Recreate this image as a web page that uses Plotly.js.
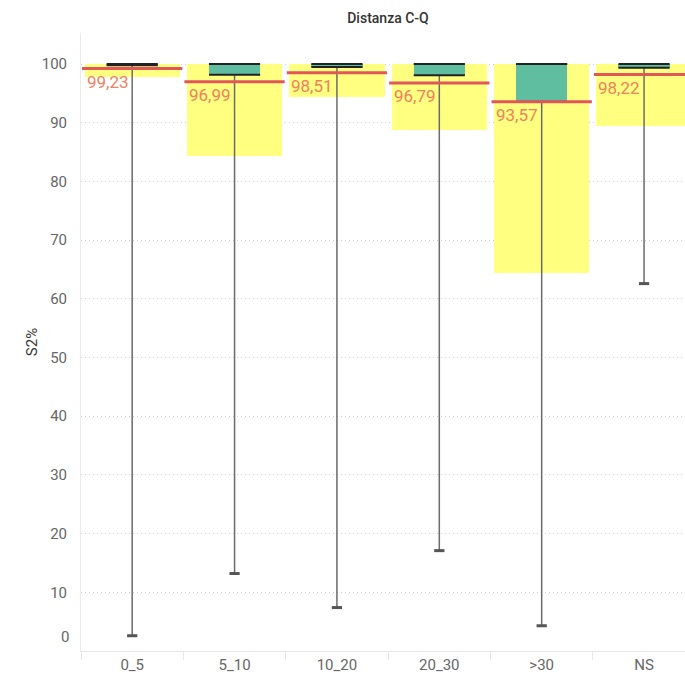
<!DOCTYPE html>
<html>
<head>
<meta charset="utf-8">
<script src="https://cdn.plot.ly/plotly-3.0.1.min.js"></script>
<style>html,body{margin:0;padding:0;background:#fff;}#chart{width:685px;height:677px;}</style>
</head>
<body>
<div id="chart"></div>
<script>
// ---- data ----
const categories = ['0_5', '5_10', '10_20', '20_30', '>30', 'NS'];
const bandLow    = [97.8, 84.3, 94.4, 88.8, 64.4, 89.4];
const bandHigh   = [100, 100, 100, 100, 100, 100];
const q1         = [99.8, 98.2, 99.5, 98.1, 93.6, 99.4];
const q3         = [100, 100, 100, 100, 100, 100];
const whiskerLow = [2.6, 13.2, 7.4, 17.1, 4.3, 62.6];
const whiskerHigh= [100, 100, 100, 100, 100, 100];
const means      = [99.23, 96.99, 98.51, 96.79, 93.57, 98.22];
const yTicks     = [10, 20, 30, 40, 50, 60, 70, 80, 90, 100];

const FONT = 'Roboto, "Noto Sans", sans-serif';
const idx = categories.map((c, i) => i);

function segs(halfW, vals) {
  const x = [], y = [];
  idx.forEach(i => { x.push(i - halfW, i + halfW, null); y.push(vals[i], vals[i], null); });
  return {x, y};
}

const traces = [];
// yellow reference bands
traces.push({type: 'bar', x: idx, base: bandLow, y: idx.map(i => bandHigh[i] - bandLow[i]),
  width: 0.93, marker: {color: '#ffff80', line: {width: 0}}, hoverinfo: 'skip', showlegend: false});
// whiskers
(function () {
  const x = [], y = [];
  idx.forEach(i => { x.push(i, i, null, i, i, null); y.push(q1[i], whiskerLow[i], null, q3[i], whiskerHigh[i], null); });
  traces.push({type: 'scatter', mode: 'lines', x, y, line: {color: '#6b6b6b', width: 1.5}, hoverinfo: 'skip', showlegend: false});
})();
// boxes
traces.push({type: 'bar', x: idx, base: q1, y: idx.map(i => Math.max(q3[i] - q1[i], 0.05)),
  width: 0.5, marker: {color: '#60bea0', line: {width: 0}}, hoverinfo: 'skip', showlegend: false});
// box edges
const e1 = segs(0.25, q1), e3 = segs(0.25, q3);
traces.push({type: 'scatter', mode: 'lines', x: e1.x.concat(e3.x), y: e1.y.concat(e3.y),
  line: {color: '#222222', width: 2}, hoverinfo: 'skip', showlegend: false});
// mean lines
const m = segs(0.49, means);
traces.push({type: 'scatter', mode: 'lines', x: m.x, y: m.y, line: {color: '#e15759', width: 3}, hoverinfo: 'skip', showlegend: false});
// whisker caps
const c = segs(0.05, whiskerLow);
traces.push({type: 'scatter', mode: 'lines', x: c.x, y: c.y, line: {color: '#555555', width: 3}, hoverinfo: 'skip', showlegend: false});

const annotations = idx.map(i => ({
  x: i - 0.465, y: means[i], xref: 'x', yref: 'y', xanchor: 'left', yanchor: 'top',
  text: means[i].toFixed(2).replace('.', ','), showarrow: false, yshift: -1,
  font: {family: FONT, size: 17, color: '#f0805f'}
}));
annotations.push({x: 0, xref: 'paper', y: 0, yref: 'y', xanchor: 'right', yanchor: 'bottom', xshift: -10, yshift: 3,
  text: '0', showarrow: false, font: {family: FONT, size: 15, color: '#666666'}});

const layout = {
  width: 685, height: 677,
  margin: {l: 81, r: 0, t: 33, b: 26, pad: 0},
  paper_bgcolor: '#ffffff', plot_bgcolor: '#ffffff',
  barmode: 'overlay', bargap: 0,
  showlegend: false,
  title: {text: 'Distanza C-Q', xref: 'container', yref: 'container', x: 388 / 685, y: 1 - 18 / 677,
    xanchor: 'center', yanchor: 'middle', font: {family: FONT, size: 14, color: '#333333', weight: 500}},
  xaxis: {type: 'linear', range: [-0.5, 5.4], tickmode: 'array', tickvals: idx, ticktext: categories,
    showgrid: false, zeroline: false, showline: true, linecolor: '#e6e6e6', linewidth: 1,
    ticks: '', ticklabelstandoff: 0, tickfont: {family: FONT, size: 15, color: '#666666'},
    minor: {tickmode: 'array', tickvals: [-0.5, 0.5, 1.5, 2.5, 3.5, 4.5], ticks: 'outside', ticklen: 8, tickcolor: '#e6e6e6', tickwidth: 1, showgrid: false},
    fixedrange: true},
  yaxis: {range: [0, 105.3], tickmode: 'array', tickvals: yTicks, ticktext: yTicks.map(String),
    showgrid: true, gridcolor: '#cfcfcf', griddash: '1px,3px', gridwidth: 1,
    zeroline: false, showline: true, linecolor: '#ebebeb', linewidth: 1,
    ticks: '', ticklabelstandoff: 10, tickfont: {family: FONT, size: 15, color: '#666666'},
    title: {text: 'S2%', standoff: 0, font: {family: FONT, size: 15, color: '#333333'}},
    automargin: false, fixedrange: true},
  annotations: annotations
};

Plotly.newPlot('chart', traces, layout, {displayModeBar: false, staticPlot: true});
</script>
</body>
</html>
